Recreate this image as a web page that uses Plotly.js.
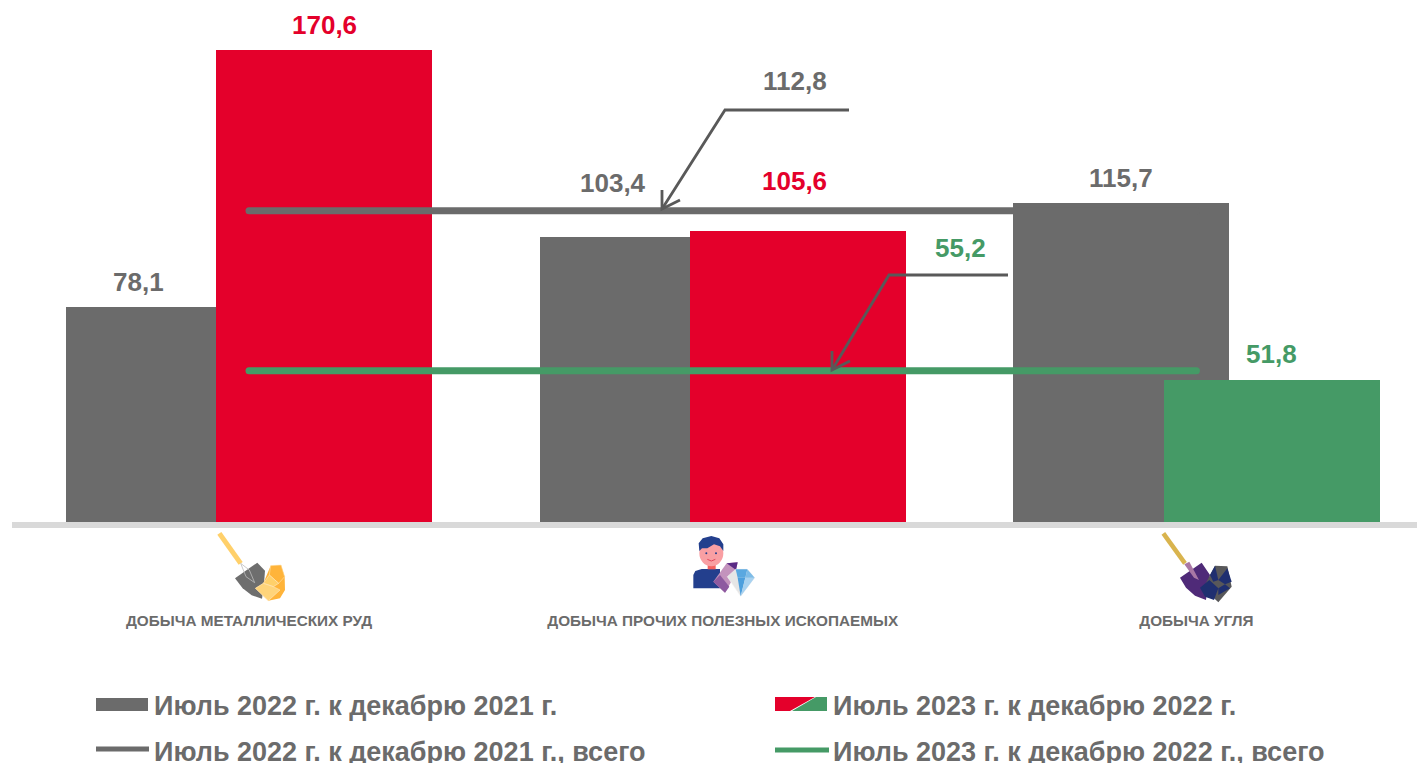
<!DOCTYPE html>
<html><head><meta charset="utf-8">
<script src="https://cdn.plot.ly/plotly-3.0.1.min.js"></script>
<style>html,body{margin:0;padding:0;background:#fff;overflow:hidden}#c{width:1417px;height:763px}</style>
</head><body><div id="c"></div>
<script>
const categories = ['ДОБЫЧА МЕТАЛЛИЧЕСКИХ РУД','ДОБЫЧА ПРОЧИХ ПОЛЕЗНЫХ ИСКОПАЕМЫХ','ДОБЫЧА УГЛЯ'];
const values2022 = [78.1,103.4,115.7];
const values2023 = [170.6,105.6,51.8];
const total2022 = 112.8;
const total2023 = 55.2;
const name2022 = 'Июль 2022 г. к декабрю 2021 г.';
const name2023 = 'Июль 2023 г. к декабрю 2022 г.';
const nameTotal2022 = 'Июль 2022 г. к декабрю 2021 г., всего';
const nameTotal2023 = 'Июль 2023 г. к декабрю 2022 г., всего';

const GRAY='#6b6b6b', RED='#e4002b', GREEN='#459a66', FONT='"Liberation Sans", Arial, sans-serif';
const W=1417,H=763,L=12,B=524,PXU=2.778;
const colors2023=[RED,RED,GREEN];
const fmt=v=>v.toFixed(1).replace('.',',');
const CATW=473.7, C0=249;
const xi=px=>(px-C0)/CATW;
const X=px=>(px-L)/(W-L), Y=py=>(B-py)/B;

const traces=[
 {type:'bar',name:name2022,x:categories,y:values2022,marker:{color:GRAY},width:216/CATW,offset:-183/CATW,hoverinfo:'y+name'},
 {type:'bar',name:name2023,x:categories,y:values2023,marker:{color:colors2023},width:216/CATW,offset:-32.6/CATW,hoverinfo:'y+name'},
 {type:'scatter',mode:'lines',name:nameTotal2022,x:[categories[0],categories[2]],y:[total2022,total2022],line:{color:GRAY,width:7},hoverinfo:'y+name'},
 {type:'scatter',mode:'lines',name:nameTotal2023,x:[categories[0],categories[2]],y:[total2023,total2023],line:{color:GREEN,width:7},hoverinfo:'y+name'}
];

const annotations=[];
function lab(i,v,color,dx,gap){annotations.push({x:i,y:v,xref:'x',yref:'y',text:fmt(v),showarrow:false,xshift:dx,yshift:gap,xanchor:'center',yanchor:'middle',font:{family:FONT,size:26,color:color,weight:700}});}
lab(0,values2022[0],GRAY,-111,25);
lab(0,values2023[0],RED,75,25);
lab(1,values2022[1],GRAY,-110,54);
lab(1,values2023[1],RED,72,50);
lab(2,values2022[2],GRAY,-75,25);
lab(2,values2023[2],GREEN,75,26);
lab(1,total2022,GRAY,72,130);
lab(1,total2023,GREEN,238,123);

function legText(px,py,t){annotations.push({x:X(px),y:Y(py),xref:'paper',yref:'paper',text:t,showarrow:false,xanchor:'left',yanchor:'middle',font:{family:FONT,size:27,color:GRAY,weight:700}});}
legText(152,706,name2022);legText(831,706,name2023);legText(152,752,nameTotal2022);legText(831,752,nameTotal2023);

const P=(a)=>'M'+a.map(p=>X(p[0])+','+Y(p[1])).join('L');
const shapes=[];
const pshape=(a,color,w,fill)=>shapes.push({type:'path',xref:'paper',yref:'paper',path:P(a)+(fill?'Z':''),line:{color:color,width:w},fillcolor:fill||'rgba(0,0,0,0)',layer:'above'});
// axis band
const rline=(x0,x1,y,c,w)=>shapes.push({type:'line',xref:'paper',yref:'paper',x0:X(x0),x1:X(x1),y0:Y(y),y1:Y(y),line:{color:c,width:w},layer:'above'});
rline(12,1417,525,'#d9d9d9',6);
// callouts
const CALL='#595959';
pshape([[849,110],[725,110],[662,209]],CALL,2.8);
pshape([[662,190],[662,209],[680,200]],CALL,2.8);
pshape([[1008,275],[889,275],[832,370]],CALL,2.8);
pshape([[832,351],[832,370],[850,361]],CALL,2.8);
// legend swatches
pshape([[96,698],[148,698],[148,711],[96,711]],GRAY,0,GRAY);
pshape([[775,697],[815,697],[790,711],[775,711]],RED,0,RED);
pshape([[816,697],[827,697],[827,711],[792,711]],GREEN,0,GREEN);
rline(96,149,749,GRAY,5);rline(775,829,750,GREEN,5);

// pictograms: coordinates in 3x units relative to an origin
function icon(ox,oy,parts){
 const m=p=>[ox+p[0]/3,oy+p[1]/3];
 parts.forEach(q=>{
  if(q.line) pshape(q.line.map(m),q.c,q.w);
  else if(q.ell){const [cx,cy,rx,ry]=q.ell;shapes.push({type:'circle',xref:'paper',yref:'paper',x0:X(ox+(cx-rx)/3),x1:X(ox+(cx+rx)/3),y0:Y(oy+(cy-ry)/3),y1:Y(oy+(cy+ry)/3),fillcolor:q.c,line:{width:0},layer:'above'});}
  else pshape(q.poly.map(m),q.s||q.c,q.s?0.6:0,q.c);
 });
}
icon(180,520,[
 {line:[[118,40],[182,130]],c:'#ffd06a',w:5},
 {poly:[[165,175],[232,128],[255,152],[252,190],[246,236],[215,226],[188,205]],c:'#6e6e6e'},
 {line:[[182,130],[198,170],[224,188],[208,150],[182,130]],c:'#bdbdbd',w:0.8},
 {poly:[[226,205],[250,190],[272,137],[303,135],[314,170],[315,210],[300,235],[265,242]],c:'#ffb43a'},
 {poly:[[272,137],[303,135],[314,170],[296,190],[268,165]],c:'#ffb43a',s:'#ffe3ad'},
 {poly:[[250,190],[268,165],[296,190],[280,200]],c:'#ffd06a',s:'#ffe9c4'},
 {poly:[[226,205],[250,190],[280,200],[300,210],[265,242]],c:'#ffd47a',s:'#ffe9c4'}
]);
icon(670,525,[
 {poly:[[70,190],[70,150],[76,138],[95,132],[150,132],[150,190]],c:'#233f8d'},
 {poly:[[113,115],[137,115],[137,133],[113,133]],c:'#f4605f'},
 {ell:[124,85,36,39],c:'#f99fa3'},
 {poly:[[88,78],[86,55],[98,40],[124,33],[148,40],[160,58],[160,78],[150,64],[132,58],[112,70],[96,70]],c:'#233f8d'},
 {ell:[109,85,3,3],c:'#233f8d'},{ell:[138,85,3,3],c:'#233f8d'},
 {line:[[112,103],[124,108],[136,103]],c:'#e2455a',w:1},
 {poly:[[130,170],[170,115],[203,112],[195,150],[165,203]],c:'#c393bd'},
 {poly:[[170,115],[203,112],[198,135]],c:'#5a2a85'},
 {poly:[[130,170],[150,150],[178,185],[165,203]],c:'#8e5aa0'},
 {poly:[[172,155],[197,133],[232,133],[254,158],[212,214]],c:'#e6e6e6',s:'#f4f4f4'},
 {poly:[[197,133],[232,133],[226,158],[203,158]],c:'#5aa8e0'},
 {poly:[[203,158],[226,158],[212,214]],c:'#4d9fdd'},
 {poly:[[226,158],[254,158],[212,214]],c:'#a9d2f0'},
 {poly:[[232,133],[254,158],[226,158]],c:'#7dbce8'}
]);
icon(1150,525,[
 {line:[[40,25],[105,115]],c:'#d9b44e',w:4.5},
 {poly:[[90,158],[155,113],[180,150],[172,190],[168,225],[135,212],[108,188]],c:'#4f2a78'},
 {poly:[[103,118],[118,110],[147,165],[132,158]],c:'#a977a5'},
 {poly:[[195,122],[232,124],[245,185],[205,232],[160,190],[180,150]],c:'#58585a'},
 {poly:[[150,188],[178,165],[205,190],[192,225],[165,215]],c:'#1f2f70'},
 {poly:[[180,150],[195,122],[205,165],[190,170]],c:'#1f2f70'},
 {poly:[[205,165],[232,130],[245,170],[225,178]],c:'#1f2f70'},
 {poly:[[205,190],[225,178],[240,190],[205,210]],c:'#1f2f70'}
]);

const layout={
 width:W,height:H,margin:{l:L,r:0,t:0,b:H-B},paper_bgcolor:'#fff',plot_bgcolor:'#fff',
 barmode:'overlay',showlegend:false,
 xaxis:{type:'category',categoryorder:'array',categoryarray:categories,range:[xi(L),xi(W)],
   showline:false,showgrid:false,zeroline:false,
   ticks:'outside',ticklen:83,tickcolor:'rgba(0,0,0,0)',
   tickfont:{family:FONT,size:15.3,color:GRAY,weight:700},tickangle:0},
 yaxis:{range:[0,B/PXU],visible:false,fixedrange:true},
 annotations,shapes,
 bargap:0
};
Plotly.newPlot('c',traces,layout,{displayModeBar:false,staticPlot:true}).then(()=>{
 document.querySelectorAll('.scatterlayer .js-line').forEach(e=>e.style.strokeLinecap='round');
});
</script></body></html>
